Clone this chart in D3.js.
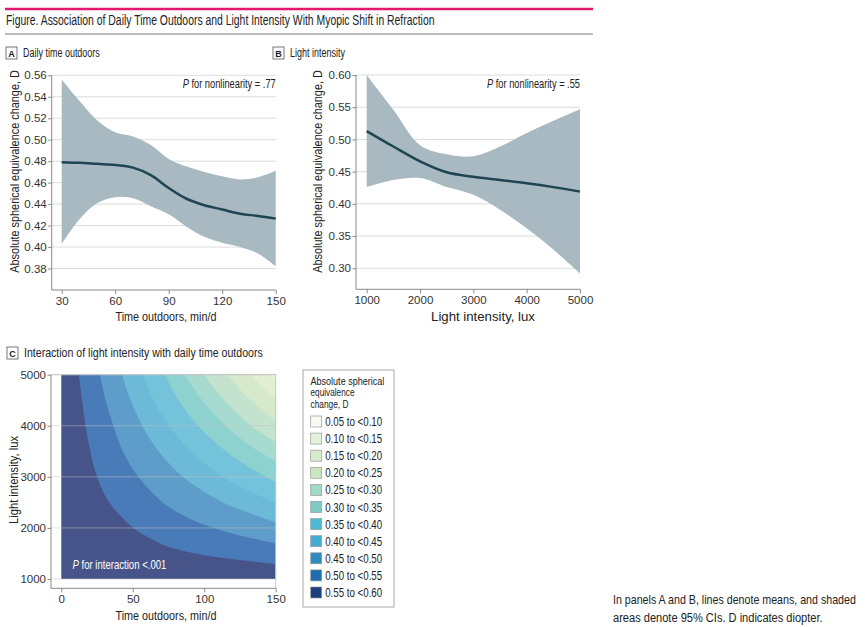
<!DOCTYPE html>
<html>
<head>
<meta charset="utf-8">
<script src="https://cdn.jsdelivr.net/npm/d3@7"></script>
<style>
  body { margin: 0; background: #fff; }
  svg text { font-family: "Liberation Sans", Arial, sans-serif; fill: #222; }
  .tick text { font-family: "Liberation Sans", Arial, sans-serif; font-size: 11.5px; fill: #333; }
</style>
</head>
<body>
<div id="chart"></div>
<script>
// panel A - daily time outdoors (min/d)
const timeA = [30, 40, 50, 60, 70, 80, 90, 100, 110, 120, 130, 140, 150];
const meanA = [0.479, 0.4785, 0.4775, 0.4765, 0.474, 0.467, 0.455, 0.445, 0.439, 0.435, 0.431, 0.429, 0.4265];
const lowerA = [0.403, 0.426, 0.441, 0.4465, 0.4455, 0.438, 0.4305, 0.419, 0.4095, 0.404, 0.400, 0.394, 0.382];
const upperA = [0.556, 0.536, 0.518, 0.507, 0.503, 0.495, 0.482, 0.475, 0.470, 0.466, 0.463, 0.465, 0.471];
const ticksAx = [30, 60, 90, 120, 150];
const ticksAy = [0.38, 0.40, 0.42, 0.44, 0.46, 0.48, 0.50, 0.52, 0.54, 0.56];

// panel B - light intensity (lux)
const luxB = [1000, 1500, 2000, 2500, 3000, 3500, 4000, 4500, 5000];
const meanB = [0.513, 0.489, 0.466, 0.449, 0.442, 0.437, 0.432, 0.426, 0.419];
const lowerB = [0.426, 0.437, 0.440, 0.426, 0.414, 0.391, 0.362, 0.329, 0.292];
const upperB = [0.600, 0.546, 0.491, 0.477, 0.474, 0.489, 0.510, 0.529, 0.547];
const ticksBx = [1000, 2000, 3000, 4000, 5000];
const ticksBy = [0.30, 0.35, 0.40, 0.45, 0.50, 0.55, 0.60];

// panel C - contour boundaries, [time, lux] from top edge to right edge
const contourLevels = [0.55, 0.50, 0.45, 0.40, 0.35, 0.30, 0.25, 0.20, 0.15, 0.10];
const contourLines = [
  [[12.4, 5000], [14.5, 4500], [17, 4000], [20.3, 3500], [25, 3000], [33.5, 2500], [50.5, 2000], [62, 1800], [75, 1630], [99, 1470], [125, 1370], [150, 1295]],
  [[27.1, 5000], [31, 4500], [36.4, 4000], [43, 3500], [53.9, 3000], [71, 2500], [90, 2180], [107, 2000], [125, 1850], [150, 1698]],
  [[42.5, 5000], [48.6, 4500], [56.7, 4000], [68, 3500], [85, 3000], [113, 2500], [130, 2310], [150, 2110]],
  [[57.2, 5000], [64.5, 4500], [75.3, 4000], [90.5, 3500], [113, 3000], [133, 2700], [150, 2500]],
  [[72.6, 5000], [82, 4500], [95.7, 4000], [115, 3500], [135, 3130], [150, 2900]],
  [[86.6, 5000], [98.6, 4500], [115, 4000], [132, 3615], [150, 3300]],
  [[100, 5000], [114, 4500], [133, 4000], [150, 3680]],
  [[116, 5000], [132.5, 4500], [150, 4100]],
  [[132.5, 5000], [142, 4730], [150, 4530]],
  [[146.8, 5000], [150, 4910]]
];
const ticksCx = [0, 50, 100, 150];
const ticksCy = [1000, 2000, 3000, 4000, 5000];

// legend
const legendTitle = ['Absolute spherical', 'equivalence', 'change, D'];
const legendLabels = ['0.05 to <0.10', '0.10 to <0.15', '0.15 to <0.20', '0.20 to <0.25', '0.25 to <0.30',
  '0.30 to <0.35', '0.35 to <0.40', '0.40 to <0.45', '0.45 to <0.50', '0.50 to <0.55', '0.55 to <0.60'];
const legendColors = ['#f6faef', '#e3f1dc', '#d6ecce', '#c9e6c1', '#a1d9c9', '#7ccbc4', '#4fbad3', '#43acd5', '#2c8cc1', '#1e6db2', '#1c3f80'];
// the plotted fill is paler than the legend swatches (lowest band first)
const fillColors = ['#eef5e8', '#e2efd5', '#d6eacb', '#c4e3cf', '#a8dbcf', '#8ed2cf', '#74c3da', '#6cb9d8', '#5e9dc9', '#4a7bb9', '#46548a'];

const width = 865, height = 627;
const svg = d3.select('#chart').append('svg').attr('width', width).attr('height', height);

// the figure uses a narrow typeface: squeeze each text horizontally to the width it has there
function fit(sel, w) {
  sel.each(function() {
    const k = w / this.getComputedTextLength();
    const x = +this.getAttribute('x') || 0, y = +this.getAttribute('y') || 0;
    const prev = this.getAttribute('transform') || '';
    this.setAttribute('transform', `${prev} translate(${x},${y}) scale(${k},1) translate(${-x},${-y})`);
  });
  return sel;
}

// header
svg.append('line').attr('x1', 5).attr('x2', 593).attr('y1', 9).attr('y2', 9).attr('stroke', '#e2176d').attr('stroke-width', 2.5);
fit(svg.append('text').attr('x', 6).attr('y', 25.5).attr('font-size', 14.5).attr('fill', '#1a1a1a')
  .text('Figure. Association of Daily Time Outdoors and Light Intensity With Myopic Shift in Refraction'), 429);
svg.append('line').attr('x1', 5).attr('x2', 593).attr('y1', 34).attr('y2', 34).attr('stroke', '#777').attr('stroke-width', 1.2);

function panelLabel(x, y, letter, title, w) {
  svg.append('rect').attr('x', x).attr('y', y).attr('width', 11).attr('height', 12)
    .attr('fill', 'none').attr('stroke', '#555').attr('stroke-width', 0.8);
  svg.append('text').attr('x', x + 5.5).attr('y', y + 9.5).attr('text-anchor', 'middle')
    .attr('font-size', 9).attr('font-weight', 'bold').text(letter);
  fit(svg.append('text').attr('x', x + 17).attr('y', y + 10.5).attr('font-size', 13).text(title), w);
}
panelLabel(6, 47, 'A', 'Daily time outdoors', 77);
panelLabel(273, 47, 'B', 'Light intensity', 55);
panelLabel(7, 347, 'C', 'Interaction of light intensity with daily time outdoors', 239);

function pText(g, x, y, rest, anchor, color, size, w) {
  const t = g.append('text').attr('x', x).attr('y', y).attr('text-anchor', anchor)
    .attr('font-size', size).style('fill', color);
  t.append('tspan').attr('font-style', 'italic').text('P');
  t.append('tspan').text(rest);
  fit(t, w);
}

function axes(g, o) {
  const gy = g.append('g').attr('transform', `translate(${o.axisX},0)`)
    .call(d3.axisLeft(o.y).tickValues(o.yTicks).tickFormat(o.yFmt).tickSize(3.5).tickPadding(1.5));
  const gx = g.append('g').attr('transform', `translate(0,${o.axisY})`)
    .call(d3.axisBottom(o.x).tickValues(o.xTicks).tickFormat(d3.format('d')).tickSize(4).tickPadding(3));
  [gy, gx].forEach(a => {
    a.select('.domain').remove();
    a.selectAll('.tick line').attr('stroke', '#888');
  });
  g.append('line').attr('x1', o.axisX).attr('x2', o.axisX).attr('y1', o.top).attr('y2', o.axisY).attr('stroke', '#888');
  g.append('line').attr('x1', o.axisX).attr('x2', o.x.range()[1]).attr('y1', o.axisY).attr('y2', o.axisY).attr('stroke', '#888');
  fit(g.append('text').attr('x', o.xTitleX).attr('y', o.axisY + 31.5).attr('text-anchor', 'middle')
    .attr('font-size', 13.5).text(o.xTitle), o.xTitleW);
  fit(g.append('text').attr('transform', `translate(${o.yTitleX},${o.yTitleY}) rotate(-90)`).attr('text-anchor', 'middle')
    .attr('font-size', o.yTitleSize).text(o.yTitle), o.yTitleW);
}

function linePanel(o) {
  const g = svg.append('g');
  g.selectAll('line.grid').data(o.yTicks).join('line')
    .attr('x1', o.axisX).attr('x2', o.x.range()[1])
    .attr('y1', d => o.y(d)).attr('y2', d => o.y(d))
    .attr('stroke', '#dcdcdc');
  const area = d3.area()
    .x((d, i) => o.x(o.xs[i])).y0((d, i) => o.y(o.lo[i])).y1((d, i) => o.y(o.hi[i]))
    .curve(d3.curveCatmullRom);
  g.append('path').datum(o.xs).attr('d', area).attr('fill', '#a8b9c2');
  const line = d3.line().x((d, i) => o.x(o.xs[i])).y(d => o.y(d)).curve(d3.curveCatmullRom);
  g.append('path').datum(o.mean).attr('d', line).attr('fill', 'none')
    .attr('stroke', '#1f4452').attr('stroke-width', 2.5);
  pText(g, o.x.range()[1], 88.5, ' for nonlinearity = ' + o.p, 'end', '#222', 12, 93);
  axes(g, o);
}

const xA = d3.scaleLinear().domain([30, 150]).range([61.7, 275.7]);
const yA = d3.scaleLinear().domain([0.36, 0.56]).range([290, 75.3]);
linePanel({
  x: xA, y: yA, xs: timeA, mean: meanA, lo: lowerA, hi: upperA,
  xTicks: ticksAx, yTicks: ticksAy, yFmt: d3.format('.2f'),
  axisX: 51.7, axisY: 290, top: 75.3, p: '.77',
  xTitle: 'Time outdoors, min/d', xTitleX: 166, xTitleW: 101,
  yTitle: 'Absolute spherical equivalence change, D', yTitleX: 18.5, yTitleY: 171.5, yTitleW: 203, yTitleSize: 13.5
});

const xB = d3.scaleLinear().domain([1000, 5000]).range([366.7, 580]);
const yB = d3.scaleLinear().domain([0.30, 0.60]).range([268.3, 75]);
linePanel({
  x: xB, y: yB, xs: luxB, mean: meanB, lo: lowerB, hi: upperB,
  xTicks: ticksBx, yTicks: ticksBy, yFmt: d3.format('.2f'),
  axisX: 356, axisY: 289.3, top: 75, p: '.55',
  xTitle: 'Light intensity, lux', xTitleX: 483, xTitleW: 104,
  yTitle: 'Absolute spherical equivalence change, D', yTitleX: 321.5, yTitleY: 171.5, yTitleW: 203, yTitleSize: 13.5
});

// panel C
const xC = d3.scaleLinear().domain([0, 150]).range([61.3, 275.7]);
const yC = d3.scaleLinear().domain([1000, 5000]).range([579, 374.7]);
const gC = svg.append('g');
gC.append('rect').attr('x', xC(0)).attr('y', yC(5000))
  .attr('width', xC(150) - xC(0)).attr('height', yC(1000) - yC(5000))
  .attr('fill', fillColors[fillColors.length - 1]);
const contourLine = d3.line().x(d => xC(d[0])).y(d => yC(d[1])).curve(d3.curveCatmullRom);
contourLines.forEach((pts, k) => {
  gC.append('path')
    .attr('d', contourLine(pts) + `L${xC(150)},${yC(5000)}Z`)
    .attr('fill', fillColors[fillColors.length - 2 - k])
    .attr('data-level', contourLevels[k]);
});
// grid over the fill
gC.selectAll('line.grid').data(ticksCy).join('line')
  .attr('x1', 51).attr('x2', xC(150))
  .attr('y1', d => yC(d)).attr('y2', d => yC(d))
  .attr('stroke', '#c4c4c4').attr('stroke-opacity', 0.5);
gC.append('line').attr('x1', 51).attr('x2', xC(150)).attr('y1', yC(5000)).attr('y2', yC(5000)).attr('stroke', '#c8c8c8');
gC.append('line').attr('x1', xC(150)).attr('x2', xC(150)).attr('y1', yC(5000)).attr('y2', 588.3).attr('stroke', '#c8c8c8');
pText(gC, 72.5, 569.5, ' for interaction <.001', 'start', '#fff', 13, 94);
axes(gC, {
  x: xC, y: yC, xTicks: ticksCx, yTicks: ticksCy, yFmt: d3.format('d'),
  axisX: 51, axisY: 588.3, top: 374.7,
  xTitle: 'Time outdoors, min/d', xTitleX: 166, xTitleW: 101,
  yTitle: 'Light intensity, lux', yTitleX: 18, yTitleY: 480, yTitleW: 88, yTitleSize: 13
});

// legend
const lg = svg.append('g');
lg.append('rect').attr('x', 303).attr('y', 370).attr('width', 91).attr('height', 237)
  .attr('fill', 'none').attr('stroke', '#aaa');
const titleW = [74, 44, 38];
legendTitle.forEach((t, i) => {
  fit(lg.append('text').attr('x', 310.5).attr('y', 385 + i * 11.5).attr('font-size', 11.5).text(t), titleW[i]);
});
const row = lg.selectAll('g.item').data(legendLabels).join('g')
  .attr('transform', (d, i) => `translate(310.7,${416 + i * 17.1})`);
row.append('rect').attr('width', 11).attr('height', 11)
  .attr('fill', (d, i) => legendColors[i]).attr('stroke', '#999').attr('stroke-width', 0.7);
fit(row.append('text').attr('x', 14.5).attr('y', 10).attr('font-size', 12.5).text(d => d), 57);

// footnote
fit(svg.append('text').attr('x', 613).attr('y', 604.5).attr('font-size', 13.5)
  .text('In panels A and B, lines denote means, and shaded'), 243);
fit(svg.append('text').attr('x', 613).attr('y', 622.5).attr('font-size', 13.5)
  .text('areas denote 95% CIs. D indicates diopter.'), 210);
</script>
</body>
</html>
